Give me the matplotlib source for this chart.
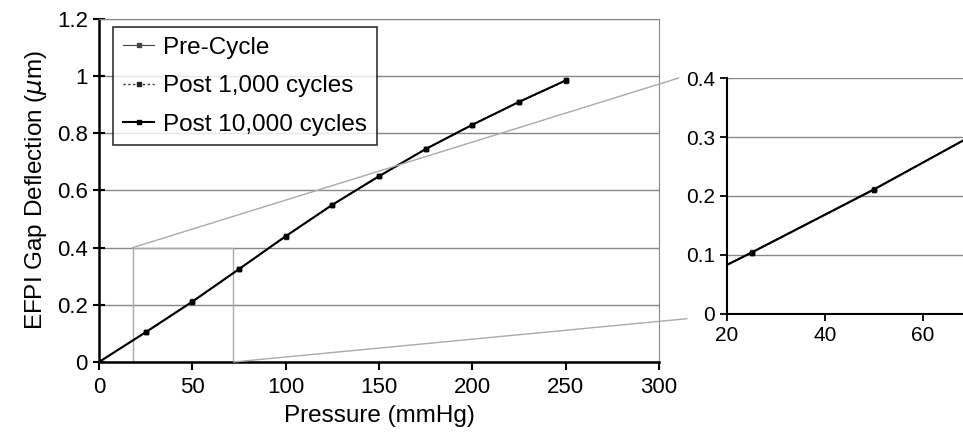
import matplotlib.pyplot as plt
import numpy as np
from matplotlib.patches import ConnectionPatch

plt.rcParams['font.family'] = ['Liberation Sans', 'DejaVu Sans']

pressure = [0, 25, 50, 75, 100, 125, 150, 175, 200, 225, 250]
pre_cycle = [0, 0.105, 0.212, 0.325, 0.440, 0.550, 0.650, 0.745, 0.830, 0.910, 0.985]
post_1000 = [0, 0.104, 0.211, 0.324, 0.439, 0.549, 0.649, 0.744, 0.829, 0.909, 0.984]
post_10000 = [0, 0.104, 0.211, 0.325, 0.440, 0.550, 0.650, 0.745, 0.830, 0.910, 0.985]
labels = ['Pre-Cycle', 'Post 1,000 cycles', 'Post 10,000 cycles']

# zoom window shown in the inset
zx0, zx1 = 18.0, 72.0
zy0, zy1 = 0.0, 0.4

fig = plt.figure(figsize=(9.63, 4.4), dpi=100)
ax = fig.add_axes([0.1028, 0.1773, 0.5815, 0.7795])
ins = fig.add_axes([0.755, 0.2864, 0.245, 0.5363])

def draw(a, ms):
    a.plot(pressure, pre_cycle, c='#444444', lw=0.8, ls='-', marker='s', ms=ms, label=labels[0], zorder=3)
    a.plot(pressure, post_1000, c='#222222', lw=1.0, ls=(0, (1.5, 2)), marker='s', ms=ms, label=labels[1], zorder=3)
    a.plot(pressure, post_10000, c='black', lw=1.5, ls='-', marker='s', ms=ms, label=labels[2], zorder=3)

draw(ax, 2.5)
ax.set_xlim(0, 300)
ax.set_ylim(0, 1.2)
ax.set_xticks([0, 50, 100, 150, 200, 250, 300])
ax.set_yticks([0, 0.2, 0.4, 0.6, 0.8, 1, 1.2])
ax.set_yticklabels(['0', '0.2', '0.4', '0.6', '0.8', '1', '1.2'])
ax.grid(axis='y', color='#888888', lw=1.0)
ax.set_axisbelow(True)
for s in ['top', 'right']:
    ax.spines[s].set_color('#888888')
for s in ['left', 'bottom']:
    ax.spines[s].set_linewidth(1.8)
ax.tick_params(axis='x', direction='out', length=6, width=1.5, labelsize=16, pad=5)
ax.tick_params(axis='y', direction='inout', length=8, width=1.5, labelsize=16, pad=4)
ax.set_xlabel('Pressure (mmHg)', fontsize=17.5, labelpad=5)
ax.set_ylabel(r'EFPI Gap Deflection ($\mu$m)', fontsize=17.5, labelpad=6)
leg = ax.legend(loc='upper left', fontsize=17.5, frameon=True, fancybox=False,
                edgecolor='black', handlelength=1.3, handletextpad=0.35,
                borderpad=0.4, labelspacing=0.68, borderaxespad=0,
                bbox_to_anchor=(0.025, 0.977))
leg.get_frame().set_linewidth(1.2)

# zoom rectangle in main plot
ax.plot([zx0, zx0, zx1, zx1], [zy0, zy1, zy1, zy0], c='#aaaaaa', lw=1.0, zorder=2)

draw(ins, 3)
ins.set_xlim(20, 68.2)
ins.set_ylim(0, 0.4)
ins.set_xticks([20, 40, 60])
ins.set_yticks([0, 0.1, 0.2, 0.3, 0.4])
ins.set_yticklabels(['0', '0.1', '0.2', '0.3', '0.4'])
ins.grid(axis='y', color='#888888', lw=1.0)
ins.set_axisbelow(True)
for s in ['top', 'right']:
    ins.spines[s].set_visible(False)
for s in ['left', 'bottom']:
    ins.spines[s].set_linewidth(1.5)
ins.tick_params(direction='out', length=5, width=1.3, labelsize=15)

# connector lines
for xyA, xyB in [((zx0, zy1), (-0.205, 1.0)), ((zx1, zy0), (-0.17, -0.02))]:
    con = ConnectionPatch(xyA=xyA, coordsA=ax.transData, xyB=xyB, coordsB=ins.transAxes,
                          color='#aaaaaa', lw=1.0)
    fig.add_artist(con)

fig.savefig('out.png', dpi=100)
